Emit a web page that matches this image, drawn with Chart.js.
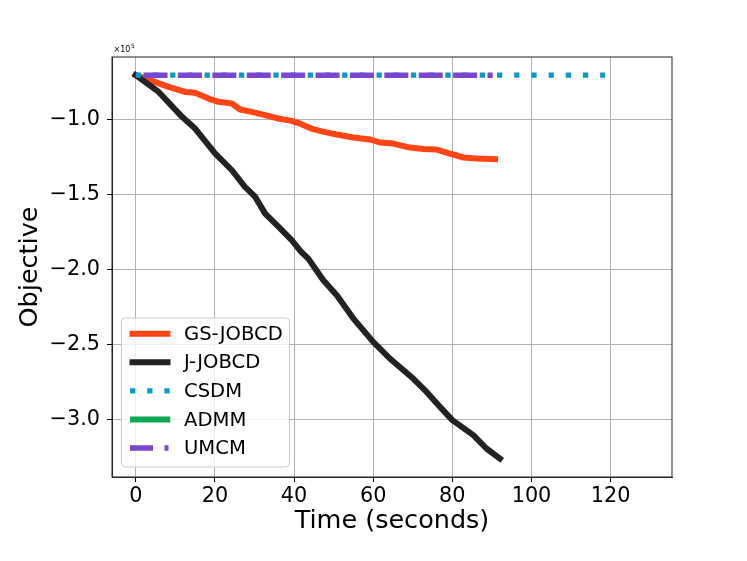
<!DOCTYPE html>
<html>
<head>
<meta charset="utf-8">
<title>Objective vs time</title>
<script src="https://cdn.jsdelivr.net/npm/chart.js@4.4.1/dist/chart.umd.min.js"></script>
<style>
  body { margin: 0; background: #fff; }
  #wrap { width: 747px; height: 561px; }
</style>
</head>
<body>
<div id="wrap"><canvas id="myChart" width="747" height="561"></canvas></div>
<script>
// objective values are in units of 1e5
var gsTime = [0, 4.1, 8.3, 12.5, 15.0, 18.4, 20.9, 24.3, 26.4, 29.3, 32.7, 36.0, 39.4, 41.9, 44.5, 47.6,
	50.8, 55.0, 59.2, 61.7, 65.1, 69.3, 72.7, 76.0, 79.4, 82.8, 86.1, 90.8];
var gsObj = [-0.704, -0.742, -0.782, -0.816, -0.822, -0.860, -0.882, -0.893, -0.933, -0.949, -0.971, -0.993,
	-1.009, -1.031, -1.062, -1.082, -1.100, -1.120, -1.133, -1.153, -1.160, -1.187, -1.196, -1.200, -1.227,
	-1.253, -1.260, -1.264];

var jTime = [0, 5.8, 11.7, 15.0, 20.1, 24.3, 27.6, 30.2, 32.7, 36.1, 39.4, 41.9, 43.6, 47.4, 50.8, 55.0,
	60.0, 64.2, 70.1, 73.5, 76.9, 80.0, 85.3, 88.6, 92.0];
var jObj = [-0.704, -0.816, -0.982, -1.060, -1.227, -1.338, -1.449, -1.516, -1.627, -1.716, -1.804, -1.885,
	-1.927, -2.071, -2.171, -2.327, -2.482, -2.593, -2.727, -2.816, -2.916, -3.004, -3.104, -3.193, -3.260];

var csdmTime = [0, 118.6];
var csdmObj = [-0.704, -0.704];

var admmTime = [];
var admmObj = [];

var umcmTime = [0, 90.2];
var umcmObj = [-0.704, -0.704];

var xTicks = [0, 20, 40, 60, 80, 100, 120];
var yTicks = [-3.0, -2.5, -2.0, -1.5, -1.0];

function pts(xs, ys) {
	return xs.map(function(x, i) { return {x: x, y: ys[i]}; });
}

var FONT = '"DejaVu Sans", sans-serif';

// box, x10^5 and legend drawn inside the plot
var extras = {
	id: 'extras',
	afterDraw: function(chart) {
		var ctx = chart.ctx;
		var a = chart.chartArea;
		ctx.save();

		ctx.strokeStyle = '#222';
		ctx.lineWidth = 1;
		ctx.strokeRect(a.left, a.top, a.right - a.left, a.bottom - a.top);

		ctx.fillStyle = '#000';
		ctx.textBaseline = 'alphabetic';
		ctx.font = '8px ' + FONT;
		ctx.fillText('×10', a.left + 1.5, a.top - 5);
		var w = ctx.measureText('×10').width;
		ctx.font = '6px ' + FONT;
		ctx.fillText('5', a.left + 2 + w, a.top - 9);

		// legend
		var bx = a.left + 9.5, by = a.bottom - 159, bw = 168, bh = 149;
		ctx.beginPath();
		ctx.roundRect(bx, by, bw, bh, 4);
		ctx.fillStyle = 'rgba(255,255,255,0.8)';
		ctx.fill();
		ctx.strokeStyle = '#cccccc';
		ctx.stroke();

		chart.data.datasets.forEach(function(ds, i) {
			var y = by + 15.7 + i * 28.6;
			ctx.save();
			ctx.beginPath();
			ctx.rect(bx + 8, y - 5, 41, 10);
			ctx.clip();
			ctx.strokeStyle = ds.borderColor;
			ctx.lineWidth = ds.borderWidth;
			ctx.lineCap = ds.borderCapStyle;
			ctx.setLineDash(ds.legendDash || ds.borderDash || []);
			ctx.beginPath();
			ctx.moveTo(bx + 8.5, y);
			ctx.lineTo(bx + 49, y);
			ctx.stroke();
			ctx.restore();

			ctx.fillStyle = '#000';
			ctx.font = '19.6px ' + FONT;
			ctx.textBaseline = 'middle';
			ctx.fillText(ds.label, bx + 62.5, y + 1);
		});
		ctx.restore();
	}
};

var ctx = document.getElementById('myChart');

var myChart = new Chart(ctx, {
	type: 'line',
	data: {
		datasets: [
			{
				label: 'GS-JOBCD',
				data: pts(gsTime, gsObj),
				borderColor: '#ff4513',
				borderWidth: 6,
				borderCapStyle: 'square',
				borderJoinStyle: 'round',
				order: 5
			},
			{
				label: 'J-JOBCD',
				data: pts(jTime, jObj),
				borderColor: '#222222',
				borderWidth: 6,
				borderCapStyle: 'square',
				borderJoinStyle: 'round',
				order: 4
			},
			{
				label: 'CSDM',
				data: pts(csdmTime, csdmObj),
				borderColor: '#0a98cc',
				borderWidth: 5.3,
				borderDash: [5.3, 11.9],
				borderCapStyle: 'butt',
				order: 3
			},
			{
				label: 'ADMM',
				data: pts(admmTime, admmObj),
				borderColor: '#0ca750',
				borderWidth: 6,
				borderCapStyle: 'butt',
				order: 2
			},
			{
				label: 'UMCM',
				data: pts(umcmTime, umcmObj),
				borderColor: '#7b46d1',
				borderWidth: 5.5,
				borderDash: [24, 10.4],
				borderDashOffset: 26.6,
				legendDash: [23, 11.5, 4, 40],
				borderCapStyle: 'butt',
				order: 1
			}
		]
	},
	options: {
		responsive: false,
		animation: false,
		layout: {padding: {left: 0, top: 57, right: 75, bottom: 0}},
		elements: {point: {radius: 0}, line: {tension: 0}},
		plugins: {
			legend: {display: false},
			tooltip: {enabled: false}
		},
		scales: {
			x: {
				type: 'linear',
				min: -6.0,
				max: 135.5,
				afterBuildTicks: function(s) { s.ticks = xTicks.map(function(v) { return {value: v}; }); },
				afterFit: function(s) { s.height = 84; },
				grid: {color: '#b0b0b0', lineWidth: 1, tickColor: '#000', tickLength: 5, tickWidth: 1},
				border: {color: '#222', width: 1},
				ticks: {
					color: '#000',
					padding: 2,
					maxRotation: 0,
					font: {family: FONT, size: 20.8, lineHeight: 1.2},
					callback: function(v) { return String(v); }
				},
				title: {
					display: true,
					text: 'Time (seconds)',
					color: '#000',
					font: {family: FONT, size: 25.5, lineHeight: 1.2},
					padding: {top: 0, bottom: 24}
				}
			},
			y: {
				type: 'linear',
				min: -3.383,
				max: -0.583,
				afterBuildTicks: function(s) { s.ticks = yTicks.map(function(v) { return {value: v}; }); },
				afterFit: function(s) { s.width = 112; },
				grid: {color: '#b0b0b0', lineWidth: 1, tickColor: '#000', tickLength: 5, tickWidth: 1},
				border: {color: '#222', width: 1},
				ticks: {
					color: '#000',
					padding: 7,
					font: {family: FONT, size: 20.8, lineHeight: 1.2},
					callback: function(v) { return '\u2212' + Math.abs(v).toFixed(1); }
				},
				title: {
					display: true,
					text: 'Objective',
					color: '#000',
					font: {family: FONT, size: 25.5, lineHeight: 1.2},
					padding: {top: 15, bottom: 0}
				}
			}
		}
	},
	plugins: [extras]
});
</script>
</body>
</html>
